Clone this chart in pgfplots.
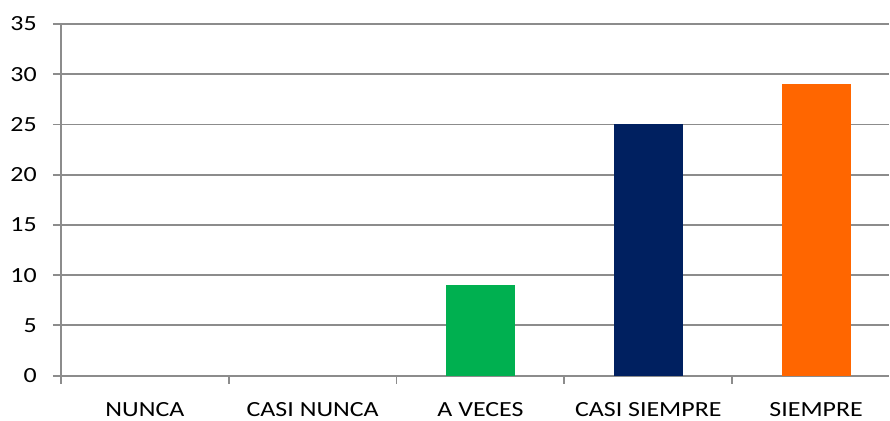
\documentclass[border=0pt]{standalone}
\usepackage{pgfplots}
\pgfplotsset{compat=1.18}
\usepackage{fontspec}
\setmainfont{Carlito}[FakeStretch=1.2]
\definecolor{gridgray}{HTML}{8C8C8C}
\definecolor{bgreen}{HTML}{00B050}
\definecolor{bnavy}{HTML}{002060}
\definecolor{borange}{HTML}{FF6600}
\begin{document}
\begin{tikzpicture}
\begin{axis}[
  scale only axis,
  width=829bp, height=352bp,
  xmin=-0.5, xmax=4.435,
  ymin=0, ymax=35,
  ytick={0,5,...,35},
  xtick={0,1,2,3,4},
  xticklabels={NUNCA, CASI NUNCA, A VECES, CASI SIEMPRE, SIEMPRE},
  extra x ticks={-0.5,0.5,1.5,2.5,3.5},
  extra x tick labels={},
  extra x tick style={grid=none, x tick style={draw=gridgray, line width=1.8bp}},
  axis x line*=bottom,
  axis y line*=left,
  axis line style={gridgray, line width=1.8bp, -},
  tick style={gridgray, line width=1.8bp},
  x tick style={draw=none},
  ymajorgrids,
  major grid style={gridgray, line width=1.8bp},
  tick align=outside,
  major tick length=8bp,
  /pgf/number format/assume math mode=true,
  ticklabel style={font=\fontsize{21.7}{26}\selectfont, inner sep=0pt},
  xticklabel style={anchor=north, yshift=-19bp},
  yticklabel style={anchor=east, xshift=-16bp},
  ybar, bar width=69bp, bar shift=0pt,
  clip=true,
]
\addplot[draw=none, fill=none] coordinates {(0,0) (1,0)};
\addplot[draw=none, fill=bgreen] coordinates {(2,9)};
\addplot[draw=none, fill=bnavy] coordinates {(3,25)};
\addplot[draw=none, fill=borange] coordinates {(4,29)};
\end{axis}
\useasboundingbox (-61bp,-45bp) rectangle (829bp,376bp);
\end{tikzpicture}
\end{document}
